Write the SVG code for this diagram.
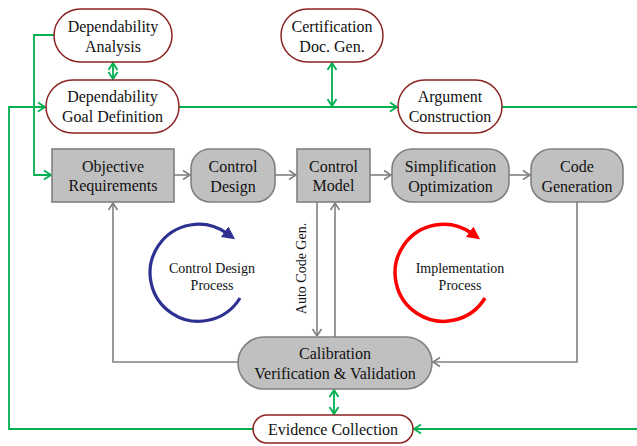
<svg xmlns="http://www.w3.org/2000/svg" width="637" height="446" viewBox="0 0 637 446">
<style>
text{font-family:"Liberation Serif","Times New Roman",serif;fill:#111;text-anchor:middle}
.t{font-size:16px}
.s{font-size:14px}
.dep{fill:#fff;stroke:#8b2323;stroke-width:1.5}
.gb{fill:#c0c0c0;stroke:#808080;stroke-width:1.6}
.g{fill:none;stroke:#00b050;stroke-width:1.8}
.k{fill:none;stroke:#808080;stroke-width:1.6}
</style>
<defs>
<marker id="ag" markerUnits="userSpaceOnUse" markerWidth="10" markerHeight="12" refX="8" refY="5" orient="auto-start-reverse" viewBox="0 0 10 10"><path d="M1,0.5 L8,5 L1,9.5" fill="none" stroke="#00b050" stroke-width="1.8"/></marker>
<marker id="ak" markerUnits="userSpaceOnUse" markerWidth="10" markerHeight="12" refX="8" refY="5" orient="auto-start-reverse" viewBox="0 0 10 10"><path d="M1,0.5 L8,5 L1,9.5" fill="none" stroke="#808080" stroke-width="1.6"/></marker>
<marker id="ab" markerUnits="userSpaceOnUse" markerWidth="13" markerHeight="13" refX="3" refY="6.5" orient="auto" viewBox="0 0 13 13"><path d="M0,0 L13,6.5 L0,13 z" fill="#2e3192"/></marker>
<marker id="ar" markerUnits="userSpaceOnUse" markerWidth="13" markerHeight="13" refX="3" refY="6.5" orient="auto" viewBox="0 0 13 13"><path d="M0,0 L13,6.5 L0,13 z" fill="#ff0000"/></marker>
</defs>

<g id="connectors">
<path class="g" d="M54,35 H34 V175 H51" marker-end="url(#ag)"/>
<path class="g" d="M253,429 H9 V107 H45" marker-end="url(#ag)"/>
<path class="g" d="M179,107 H397" marker-end="url(#ag)"/>
<path class="g" d="M502,107 H642 V429 H414" marker-end="url(#ag)"/>
<path class="g" d="M113,63 V79" marker-start="url(#ag)" marker-end="url(#ag)"/>
<path class="g" d="M332,63 V106" marker-start="url(#ag)" marker-end="url(#ag)"/>
<path class="g" d="M334,390 V414" marker-start="url(#ag)" marker-end="url(#ag)"/>
<path class="k" d="M174,175 H190" marker-end="url(#ak)"/>
<path class="k" d="M275,175 H296" marker-end="url(#ak)"/>
<path class="k" d="M370,175 H391" marker-end="url(#ak)"/>
<path class="k" d="M509,175 H530" marker-end="url(#ak)"/>
<path class="k" d="M317,202 V336" marker-end="url(#ak)"/>
<path class="k" d="M335,337 V203" marker-end="url(#ak)"/>
<path class="k" d="M238,362 H113 V203" marker-end="url(#ak)"/>
<path class="k" d="M577,202 V362 H433" marker-end="url(#ak)"/>
<path d="M240,298 A48.5,48.5 0 1 1 227,233.5" fill="none" stroke="#2e3192" stroke-width="3.2" marker-end="url(#ab)"/>
<path d="M485,298 A48.5,48.5 0 1 1 472,233.5" fill="none" stroke="#ff0000" stroke-width="3.5" marker-end="url(#ar)"/>
</g>

<g id="dependability-analysis" font-family="Liberation Serif, serif">
<rect class="dep" x="54" y="9" width="118" height="53" rx="26.5"/>
<text class="t" x="113" y="32">Dependability</text>
<text class="t" x="113" y="52">Analysis</text>
</g>
<g id="dependability-goal" font-family="Liberation Serif, serif">
<rect class="dep" x="46" y="80" width="133" height="53" rx="26.5"/>
<text class="t" x="112.5" y="102">Dependability</text>
<text class="t" x="112.5" y="122">Goal Definition</text>
</g>
<g id="certification" font-family="Liberation Serif, serif">
<rect class="dep" x="281" y="9" width="102" height="53" rx="26.5"/>
<text class="t" x="332" y="32">Certification</text>
<text class="t" x="332" y="52">Doc. Gen.</text>
</g>
<g id="argument" font-family="Liberation Serif, serif">
<rect class="dep" x="398" y="80" width="104" height="53" rx="26.5"/>
<text class="t" x="450" y="102">Argument</text>
<text class="t" x="450" y="122">Construction</text>
</g>
<g id="objective" font-family="Liberation Serif, serif">
<rect class="gb" x="52" y="149" width="122" height="53"/>
<text class="t" x="113" y="172">Objective</text>
<text class="t" x="113" y="191">Requirements</text>
</g>
<g id="control-design" font-family="Liberation Serif, serif">
<rect class="gb" x="191" y="149" width="84" height="53" rx="19"/>
<text class="t" x="233" y="172">Control</text>
<text class="t" x="233" y="192">Design</text>
</g>
<g id="control-model" font-family="Liberation Serif, serif">
<rect class="gb" x="297" y="149" width="73" height="53"/>
<text class="t" x="333.5" y="172">Control</text>
<text class="t" x="333.5" y="191">Model</text>
</g>
<g id="simplification" font-family="Liberation Serif, serif">
<rect class="gb" x="392" y="149" width="117" height="53" rx="20"/>
<text class="t" x="450.5" y="172">Simplification</text>
<text class="t" x="450.5" y="192">Optimization</text>
</g>
<g id="code-generation" font-family="Liberation Serif, serif">
<rect class="gb" x="531" y="149" width="92" height="53" rx="20"/>
<text class="t" x="577" y="172">Code</text>
<text class="t" x="577" y="192">Generation</text>
</g>
<g id="calibration" font-family="Liberation Serif, serif">
<rect class="gb" x="238" y="337" width="194" height="52" rx="26"/>
<text class="t" x="335" y="359">Calibration</text>
<text class="t" x="335" y="379">Verification &amp; Validation</text>
</g>
<g id="evidence" font-family="Liberation Serif, serif">
<rect class="dep" x="253" y="415" width="160" height="28" rx="14"/>
<text class="t" x="333" y="435">Evidence Collection</text>
</g>
<g id="labels" font-family="Liberation Serif, serif">
<text class="s" x="212" y="273">Control Design</text>
<text class="s" x="212" y="290">Process</text>
<text class="s" x="460" y="273">Implementation</text>
<text class="s" x="460" y="290">Process</text>
<text class="s" transform="translate(306,268.5) rotate(-90)">Auto Code Gen.</text>
</g>
</svg>
